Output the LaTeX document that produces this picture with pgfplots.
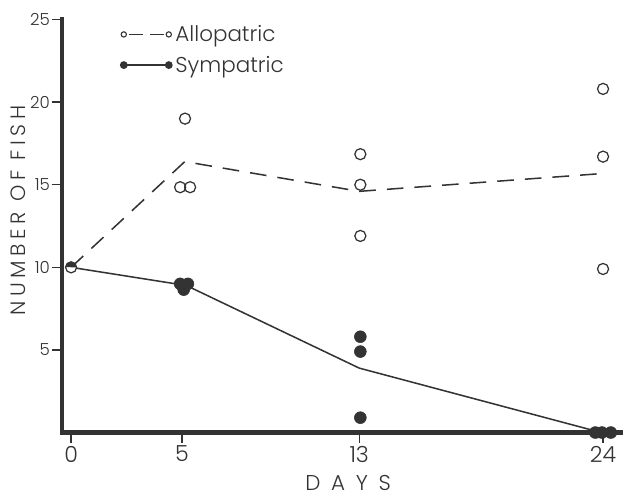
\documentclass[border=0pt]{standalone}
\usepackage{fontspec}
\setmainfont{Poppins}[UprightFont=* Light]
\usepackage{pgfplots}
\pgfplotsset{compat=1.18}
\usetikzlibrary{plotmarks}
\definecolor{ink}{gray}{0.2}
\begin{document}
\begin{tikzpicture}
\begin{axis}[
  name=ax,
  at={(0,0)}, anchor=south west,
  scale only axis, width=405.3pt, height=298.4pt,
  xmin=-0.41, xmax=24.9, ymin=0, ymax=25,
  axis x line*=bottom, axis y line*=left,
  axis line style={line width=3.2pt, ink, line cap=rect},
  xtick={0,5,13,24}, ytick={5,10,15,20,25},
  minor tick num=0,
  tick align=outside, major tick length=7.5pt,
  tick style={line width=1pt, ink},
  /pgf/number format/assume math mode=true,
  yticklabel style={font=\fontsize{12}{13}\selectfont, text=ink, inner sep=1pt},
  xticklabel style={font=\fontsize{16}{18}\selectfont, text=ink, inner sep=2pt},
  ylabel={NUMBER OF FISH},
  ylabel style={at={(axis description cs:-0.0785,0.5375)}, anchor=center,
    font=\fontsize{15}{16}\selectfont\addfontfeatures{LetterSpace=22}, text=ink},
  xlabel={DAYS},
  xlabel style={at={(axis description cs:0.51,-0.121)}, anchor=center,
    font=\fontsize{15.5}{17}\selectfont\addfontfeatures{LetterSpace=50}, text=ink},
  clip=false,
  legend style={draw=none, fill=none, at={(axis description cs:0.104,0.995)},
    anchor=north west, inner sep=0pt, row sep=4pt,
    font=\fontsize{15.5}{17}\selectfont, text=ink,
    nodes={inner sep=2.5pt}},
  legend cell align=left,
  legend image code/.code={\draw[#1, mark repeat=1] plot coordinates {(0pt,0pt) (32.5pt,0pt)};},
]
\addlegendimage{ink, line width=1pt, dash pattern=on 0pt off 4pt on 10pt off 5pt on 10pt off 10pt, mark=o, mark size=1.9pt, mark options={solid, line width=0.8pt}}
\addlegendentry{Allopatric}
\addlegendimage{ink, line width=1pt, mark=*, mark size=2.3pt, mark options={solid}}
\addlegendentry{Sympatric}
% mean lines
\addplot[forget plot, ink, line width=1.1pt, dash pattern=on 12pt off 8pt]
  coordinates {(0,10) (5.13,16.4) (13,14.6) (24.2,15.7)};
\addplot[forget plot, ink, line width=1.1pt]
  coordinates {(0,10) (5.2,8.9) (13,3.9) (23.5,0.15)};
% allopatric individual counts
\addplot[forget plot, only marks, ink, mark=o, mark size=4pt, mark options={line width=0.9pt, fill=white}]
  coordinates {(5.14,19) (4.92,14.85) (5.37,14.85) (13.05,16.85) (13.05,15) (13.05,11.9) (24,20.8) (24,16.7) (24,9.9)};
% sympatric individual counts
\addplot[forget plot, only marks, ink, mark=*, mark size=4.3pt]
  coordinates {(4.92,9.0) (5.27,9.0) (5.08,8.65) (13.05,5.8) (13.05,4.9) (13.05,0.9) (23.65,0) (23.95,0) (24.35,0)};
% day 0 shared point
\addplot[forget plot, only marks, ink, mark=halfcircle*, mark size=4pt, mark options={line width=0.9pt, fill=ink}]
  coordinates {(0,10)};
\end{axis}
\pgfresetboundingbox
\path[use as bounding box] ([shift={(-44.8pt,-46.2pt)}]ax.south west) rectangle ([shift={(0pt,14.1pt)}]ax.north east);
\end{tikzpicture}
\end{document}
